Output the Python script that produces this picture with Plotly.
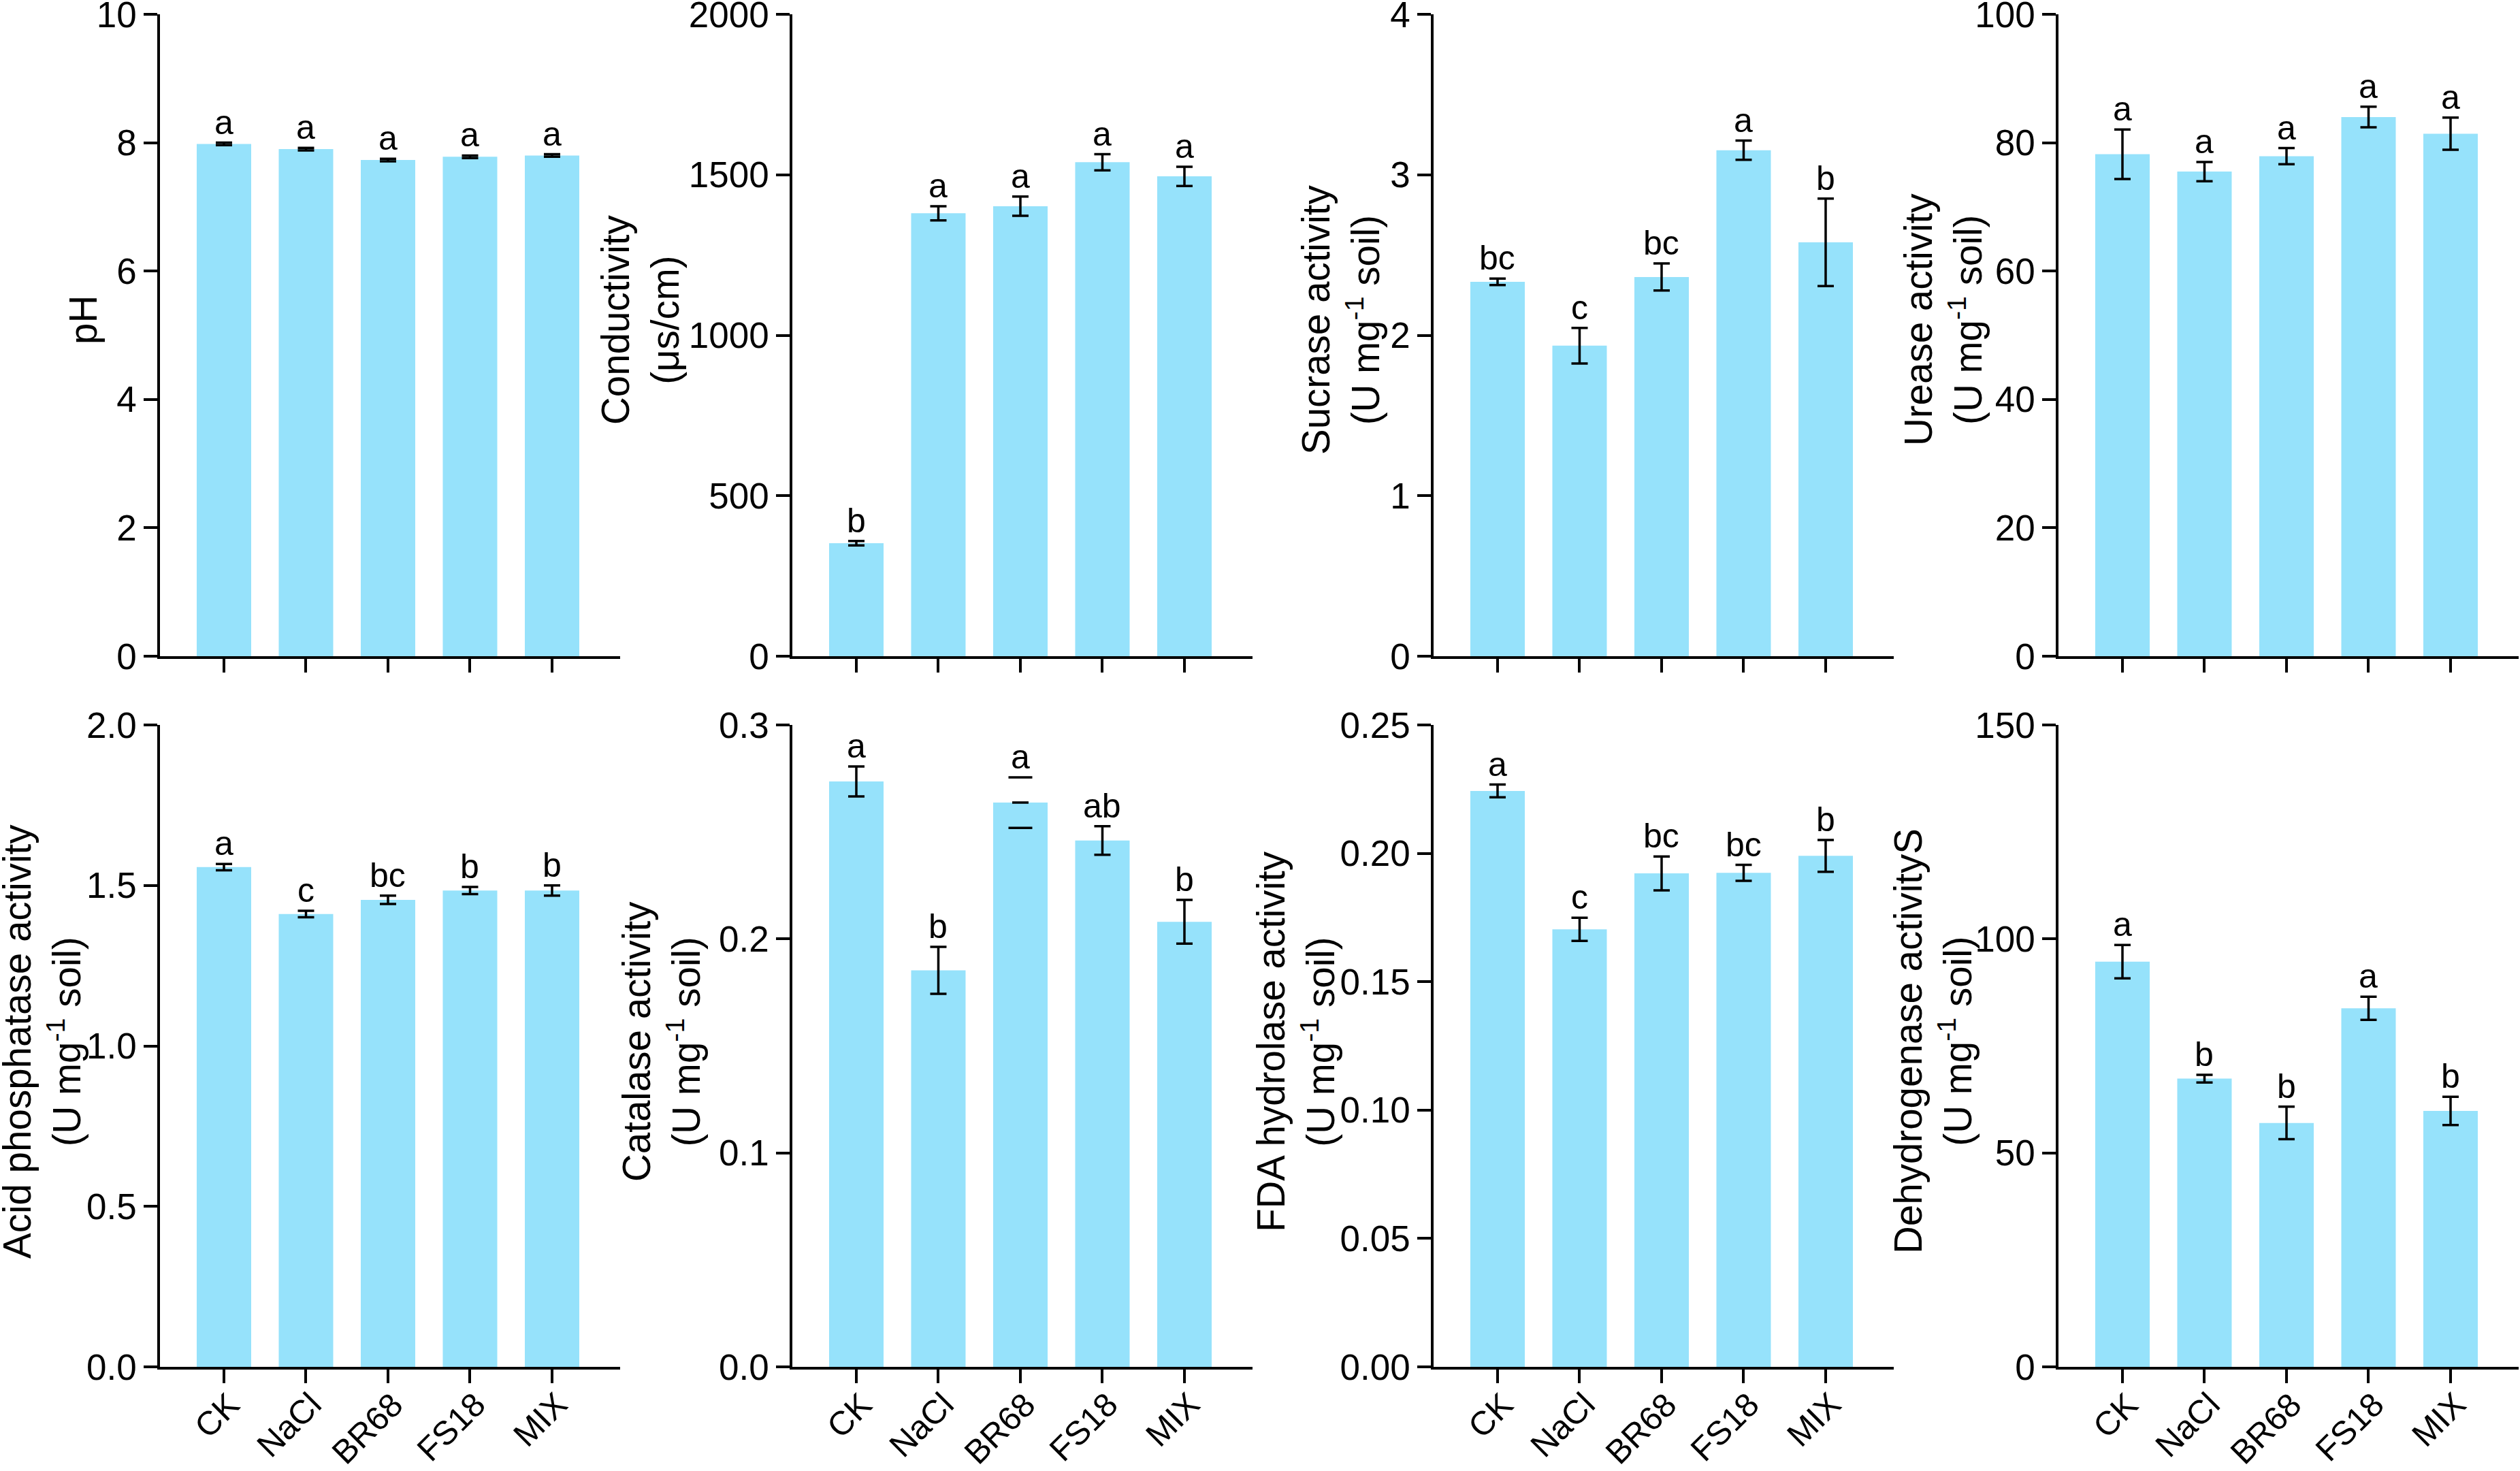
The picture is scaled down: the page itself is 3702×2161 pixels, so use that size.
import plotly.graph_objects as go

# ---------------- data ----------------
categories = ["CK", "NaCl", "BR68", "FS18", "MIX"]

ph_mean = [7.98, 7.90, 7.73, 7.78, 7.80]
ph_err = [0.02, 0.02, 0.02, 0.02, 0.02]
ph_letters = ["a", "a", "a", "a", "a"]

cond_mean = [352, 1380, 1402, 1539, 1495]
cond_err = [7, 22, 30, 25, 30]
cond_letters = ["b", "a", "a", "a", "a"]

sucrase_mean = [2.333, 1.935, 2.363, 3.153, 2.579]
sucrase_err = [0.02, 0.111, 0.084, 0.06, 0.273]
sucrase_letters = ["bc", "c", "bc", "a", "b"]

urease_mean = [78.2, 75.5, 77.9, 84.0, 81.4]
urease_err = [3.86, 1.5, 1.25, 1.6, 2.5]
urease_letters = ["a", "a", "a", "a", "a"]

acid_mean = [1.557, 1.411, 1.455, 1.484, 1.484]
acid_err = [0.01, 0.01, 0.013, 0.011, 0.016]
acid_letters = ["a", "c", "bc", "b", "b"]

catalase_mean = [0.2736, 0.1853, 0.2637, 0.246, 0.208]
catalase_err = [0.007, 0.011, 0.0118, 0.0067, 0.0102]
catalase_letters = ["a", "b", "a", "ab", "b"]
catalase_no_stem = [False, False, True, False, False]

fda_mean = [0.2243, 0.1704, 0.1922, 0.1924, 0.199]
fda_err = [0.0025, 0.0045, 0.0066, 0.0031, 0.0062]
fda_letters = ["a", "c", "bc", "bc", "b"]

dehyd_mean = [94.7, 67.35, 57.0, 83.8, 59.8]
dehyd_err = [3.9, 0.9, 3.8, 2.7, 3.3]
dehyd_letters = ["a", "b", "b", "a", "b"]

# ---------------- layout constants ----------------
W, H = 3702, 2161
BAR = "#96E2FB"
FONT = "Arial, 'Liberation Sans', Helvetica, sans-serif"
AXIS_LEN = 676
COLS = [235, 1164, 2106, 3024]
ROWS = [(21, 964), (1065, 2008)]
UNIT = "(U mg<sup>-1</sup> soil)"

panels = [
    dict(mean=ph_mean, err=ph_err, letters=ph_letters, title="pH",
         yr=[0, 10], dtick=2, fmt="", tx=123, row=0, col=0),
    dict(mean=cond_mean, err=cond_err, letters=cond_letters,
         title="Conductivity<br>(μs/cm)", yr=[0, 2000], dtick=500, fmt="",
         tx=941, row=0, col=1),
    dict(mean=sucrase_mean, err=sucrase_err, letters=sucrase_letters,
         title="Sucrase activity<br>" + UNIT, yr=[0, 4], dtick=1, fmt="",
         tx=1970, row=0, col=2),
    dict(mean=urease_mean, err=urease_err, letters=urease_letters,
         title="Urease activity<br>" + UNIT, yr=[0, 100], dtick=20, fmt="",
         tx=2855, row=0, col=3),
    dict(mean=acid_mean, err=acid_err, letters=acid_letters,
         title="Acid phosphatase activity<br>" + UNIT, yr=[0, 2.0], dtick=0.5,
         fmt=".1f", tx=62, row=1, col=0),
    dict(mean=catalase_mean, err=catalase_err, letters=catalase_letters,
         title="Catalase activity<br>" + UNIT, yr=[0, 0.3], dtick=0.1,
         fmt=".1f", tx=972, row=1, col=1, nostem=catalase_no_stem),
    dict(mean=fda_mean, err=fda_err, letters=fda_letters,
         title="FDA hydrolase activity<br>" + UNIT, yr=[0, 0.25], dtick=0.05,
         fmt=".2f", tx=1904, row=1, col=2),
    dict(mean=dehyd_mean, err=dehyd_err, letters=dehyd_letters,
         title="Dehydrogenase activityS<br>" + UNIT, yr=[0, 150], dtick=50,
         fmt="", tx=2840, row=1, col=3),
]

TITLE_Y = [470, 1530]
XLABEL_TOP = 2034   # px from top, rotated category labels (bottom row)

fig = go.Figure()
annotations = []
layout_axes = {}

for i, p in enumerate(panels, start=1):
    xa = "x" if i == 1 else f"x{i}"
    ya = "y" if i == 1 else f"y{i}"
    nostem = p.get("nostem", [False] * len(categories))
    err_arr = [None if ns else e for e, ns in zip(p["err"], nostem)]

    fig.add_trace(go.Bar(
        x=categories, y=p["mean"], xaxis=xa, yaxis=ya,
        marker=dict(color=BAR, line=dict(width=0)),
        width=0.664,
        error_y=dict(type="data", array=err_arr, visible=True,
                     color="black", thickness=3.5, width=12),
        showlegend=False, hoverinfo="skip",
    ))

    # error caps without a stem
    cx, cy = [], []
    for c, m, e, ns in zip(categories, p["mean"], p["err"], nostem):
        if ns:
            cx += [c, c]
            cy += [m + e, m - e]
    if cx:
        fig.add_trace(go.Scatter(
            x=cx, y=cy, xaxis=xa, yaxis=ya, mode="markers",
            marker=dict(symbol="line-ew", size=25,
                        line=dict(color="black", width=3.5)),
            showlegend=False, hoverinfo="skip", cliponaxis=False,
        ))

    x0 = COLS[p["col"]]
    yt, yb = ROWS[p["row"]]
    bottom = p["row"] == 1
    suffix = "" if i == 1 else str(i)
    layout_axes[f"xaxis{suffix}"] = dict(
        domain=[x0 / W, (x0 + AXIS_LEN) / W], anchor=ya, automargin=False,
        type="category", categoryorder="array", categoryarray=categories,
        range=[-0.78, 4.83], showline=True, linecolor="black", linewidth=3.5,
        ticks="outside", ticklen=20, tickwidth=3.5, tickcolor="black",
        showticklabels=False,
        showgrid=False, zeroline=False, fixedrange=True,
    )
    layout_axes[f"yaxis{suffix}"] = dict(
        domain=[1 - yb / H, 1 - yt / H], anchor=xa, automargin=False,
        range=p["yr"], tickmode="linear", tick0=0, dtick=p["dtick"],
        tickformat=p["fmt"], showline=True, linecolor="black", linewidth=3.5,
        ticks="outside", ticklen=20, tickwidth=3.5, tickcolor="black",
        ticklabeloverflow="allow",
        tickfont=dict(family=FONT, size=53, color="black"),
        showgrid=False, zeroline=False, fixedrange=True,
    )

    # rotated category labels (bottom row only)
    if bottom:
        for c in categories:
            annotations.append(dict(
                text=c, x=c, xref=xa, y=1 - XLABEL_TOP / H, yref="paper",
                xanchor="right", yanchor="top", xshift=34, textangle=-45,
                showarrow=False, borderpad=0,
                font=dict(family=FONT, size=49, color="black"),
            ))

    # axis title
    annotations.append(dict(
        text=p["title"], x=p["tx"] / W, y=1 - TITLE_Y[p["row"]] / H,
        xref="paper", yref="paper", xanchor="center", yanchor="middle",
        textangle=-90, showarrow=False,
        font=dict(family=FONT, size=56.5, color="black"),
    ))
    # significance letters
    for c, m, e, l in zip(categories, p["mean"], p["err"], p["letters"]):
        annotations.append(dict(
            text=l, x=c, y=m + e, xref=xa, yref=ya,
            xanchor="center", yanchor="bottom", yshift=0, showarrow=False,
            font=dict(family=FONT, size=50, color="black"),
        ))

fig.update_layout(
    width=W, height=H, margin=dict(l=0, r=0, t=0, b=0, autoexpand=False),
    paper_bgcolor="white", plot_bgcolor="white",
    showlegend=False, annotations=annotations,
    font=dict(family=FONT, color="black"),
    **layout_axes,
)

fig.write_html("out.html", config={"displayModeBar": False},
               post_script="document.body.style.margin='0';")
